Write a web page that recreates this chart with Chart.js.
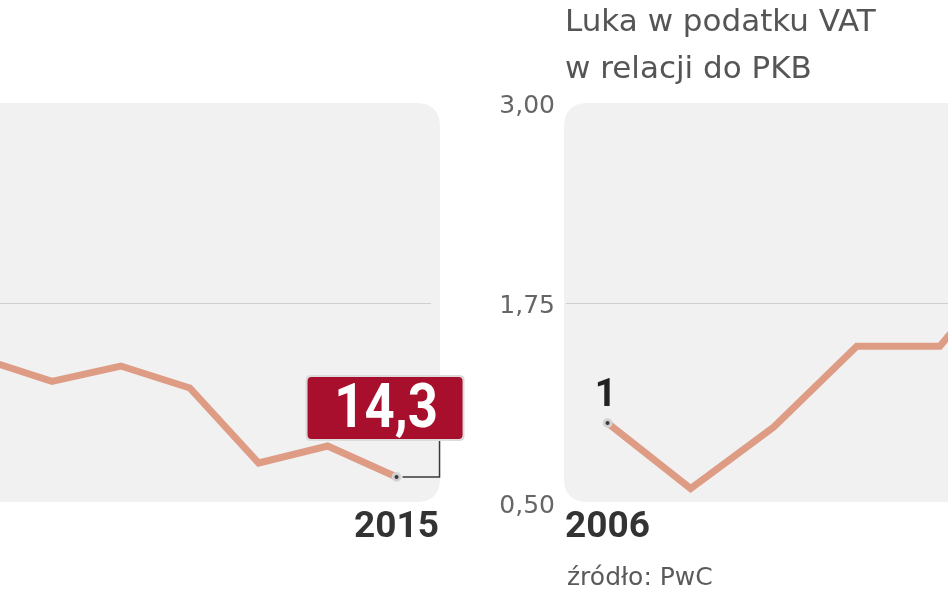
<!DOCTYPE html>
<html>
<head>
<meta charset="utf-8">
<script src="https://cdn.jsdelivr.net/npm/chart.js@4.4.1/dist/chart.umd.min.js"></script>
<style>
  html, body { margin: 0; padding: 0; background: #ffffff; }
  body { width: 948px; height: 593px; position: relative; overflow: hidden; }
  canvas { position: absolute; top: 0; }
  #cLeft { left: -58px; }
  #cRight { left: 496px; }
  .title { position: absolute; left: 565px; top: -3px; font-family: 'DejaVu Sans', sans-serif; font-size: 31px; line-height: 47px; color: #555555; white-space: nowrap; }
  .source { position: absolute; left: 567px; top: 562px; font-family: 'DejaVu Sans', sans-serif; font-size: 25px; line-height: 30px; color: #5a5a5a; white-space: nowrap; }
</style>
</head>
<body>
<canvas id="cLeft" width="528" height="593"></canvas>
<canvas id="cRight" width="575" height="593"></canvas>
<div class="title">Luka w podatku VAT<br>w relacji do PKB</div>
<div class="source">źródło: PwC</div>
<script>
// ---- data ----
const leftYears = ['2009', '2010', '2011', '2012', '2013', '2014', '2015'];
const leftValues = [20.2, 19.08, 19.85, 18.75, 15.0, 15.85, 14.3];
const leftTicks = [13, 23, 33];
const leftLabel = '14,3';

const rightYears = ['2006', '2007', '2008', '2009', '2010', '2011'];
const rightValues = [1.0, 0.59, 0.975, 1.48, 1.48, 2.1];
const rightTicks = [0.5, 1.75, 3.0];
const rightTickLabels = ['0,50', '1,75', '3,00'];
const rightLabel = '1';

// ---- styles ----
const LINE = '#de9c85';
const PANEL = '#f1f1f2';
const GRID = '#cfcfcf';

function roundRect(ctx, x, y, w, h, r) {
  ctx.beginPath();
  ctx.moveTo(x + r, y);
  ctx.lineTo(x + w - r, y);
  ctx.quadraticCurveTo(x + w, y, x + w, y + r);
  ctx.lineTo(x + w, y + h - r);
  ctx.quadraticCurveTo(x + w, y + h, x + w - r, y + h);
  ctx.lineTo(x + r, y + h);
  ctx.quadraticCurveTo(x, y + h, x, y + h - r);
  ctx.lineTo(x, y + r);
  ctx.quadraticCurveTo(x, y, x + r, y);
  ctx.closePath();
}

function panelPlugin(extraLeft, extraRight) {
  return {
    id: 'panel',
    beforeDraw(chart) {
      const a = chart.chartArea;
      const ctx = chart.ctx;
      ctx.save();
      roundRect(ctx, a.left - extraLeft, a.top, (a.right + extraRight) - (a.left - extraLeft), a.bottom - a.top - 1, 24);
      ctx.fillStyle = PANEL;
      ctx.fill();
      ctx.restore();
    }
  };
}

function baseOptions(years, yMin, yMax, ticksArr, showIndex, yCfg) {
  return {
    responsive: false,
    animation: false,
    devicePixelRatio: 1,
    layout: { padding: yCfg.padding },
    plugins: { legend: { display: false }, tooltip: { enabled: false } },
    scales: {
      x: {
        type: 'category',
        offset: true,
        grid: { display: false },
        border: { display: false },
        ticks: {
          autoSkip: false, maxRotation: 0, minRotation: 0, padding: -5,
          color: '#333',
          font: { family: 'Roboto', weight: 'bold', size: 37 },
          callback: (v, i) => (i === showIndex ? years[i] : '')
        },
        afterFit: s => { s.height = 90; }
      },
      y: {
        min: yMin, max: yMax,
        afterBuildTicks: s => { s.ticks = ticksArr.map(v => ({ value: v })); },
        border: { display: false },
        grid: {
          drawTicks: false,
          lineWidth: 1,
          color: c => (c.tick && c.tick.value === ticksArr[1] ? GRID : 'rgba(0,0,0,0)')
        },
        ticks: yCfg.ticks,
        afterFit: s => { s.width = yCfg.width; }
      }
    }
  };
}

function dataset(values, markIndex) {
  return {
    data: values,
    borderColor: LINE,
    borderWidth: 7,
    tension: 0,
    fill: false,
    borderJoinStyle: 'miter',
    pointRadius: c => (c.dataIndex === markIndex ? 3.5 : 0),
    pointHoverRadius: 0,
    pointBackgroundColor: '#3a3a3a',
    pointBorderColor: 'rgba(214,214,216,0.95)',
    pointBorderWidth: 3
  };
}

// ---- left chart ----
const leftLast = leftValues.length - 1;
const leftLabelPlugin = {
  id: 'leftLabel',
  afterDatasetsDraw(chart) {
    const pt = chart.getDatasetMeta(0).data[leftLast];
    const ctx = chart.ctx;
    const bx = pt.x - 89, by = pt.y - 100, bw = 155, bh = 62;
    ctx.save();
    ctx.strokeStyle = '#3a3a3a';
    ctx.lineWidth = 1.5;
    ctx.beginPath();
    ctx.moveTo(pt.x + 43, by + bh);
    ctx.lineTo(pt.x + 43, pt.y);
    ctx.lineTo(pt.x + 6, pt.y);
    ctx.stroke();
    roundRect(ctx, bx - 2, by - 2, bw + 4, bh + 4, 5);
    ctx.fillStyle = '#dcdcdc';
    ctx.fill();
    roundRect(ctx, bx, by, bw, bh, 4);
    ctx.fillStyle = '#a80f2c';
    ctx.fill();
    ctx.fillStyle = '#ffffff';
    ctx.font = 'bold 62px Roboto';
    ctx.textAlign = 'center';
    ctx.textBaseline = 'middle';
    ctx.translate(bx + bw / 2 + 1, by + bh / 2 + 3);
    ctx.scale(0.85, 1);
    ctx.fillText(leftLabel, 0, 0);
    ctx.restore();
  }
};

new Chart(document.getElementById('cLeft'), {
  type: 'line',
  data: { labels: leftYears, datasets: [dataset(leftValues, leftLast)] },
  options: baseOptions(leftYears, leftTicks[0], leftTicks[2], leftTicks, leftLast, {
    padding: { top: 103, right: 39, left: 0, bottom: 0 },
    width: 0,
    ticks: { display: false }
  }),
  plugins: [panelPlugin(30, 9), leftLabelPlugin]
});

// ---- right chart ----
const rightLabelPlugin = {
  id: 'rightLabel',
  afterDatasetsDraw(chart) {
    const pt = chart.getDatasetMeta(0).data[0];
    const ctx = chart.ctx;
    ctx.save();
    ctx.fillStyle = '#222';
    ctx.font = 'bold 38px Roboto';
    ctx.textAlign = 'center';
    ctx.textBaseline = 'alphabetic';
    ctx.fillText(rightLabel, pt.x - 2, pt.y - 17);
    ctx.restore();
  }
};

new Chart(document.getElementById('cRight'), {
  type: 'line',
  data: { labels: rightYears, datasets: [dataset(rightValues, 0)] },
  options: baseOptions(rightYears, rightTicks[0], rightTicks[2], rightTicks, 0, {
    padding: { top: 103, right: 0, left: 0, bottom: 0 },
    width: 70,
    ticks: {
      padding: 11,
      labelOffset: 3,
      color: '#666',
      font: { family: 'DejaVu Sans', size: 25 },
      callback: v => rightTickLabels[rightTicks.indexOf(v)]
    }
  }),
  plugins: [panelPlugin(2, 30), rightLabelPlugin]
});
</script>
</body>
</html>
